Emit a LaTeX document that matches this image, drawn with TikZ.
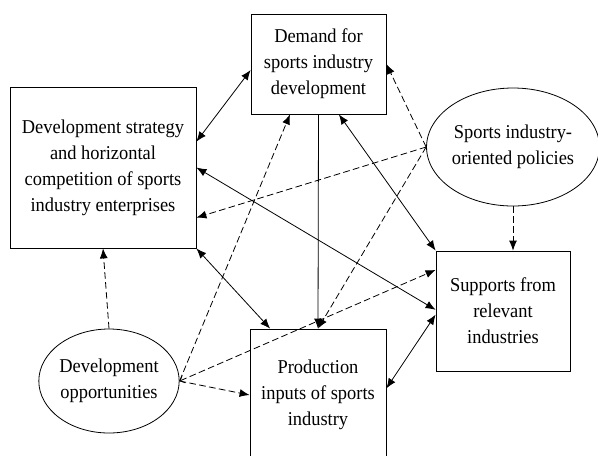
\documentclass[tikz,border=0pt]{standalone}
\usepackage{fontspec}
\setmainfont{Liberation Serif}[FakeStretch=0.94]
\usepackage{tikz}
\usetikzlibrary{shapes.geometric}
\usetikzlibrary{positioning,calc}
\usetikzlibrary{arrows.meta}

\begin{document}
\begin{tikzpicture}[x=0.75pt, y=-0.75pt, font=\fontsize{14.7}{19.5}\selectfont]
	
	\def\pxl{0.75pt}
	\tikzset{>={Latex[length=7.5pt,width=6pt]}}
	\tikzstyle{box}=[draw, line width=0.6pt, rectangle, inner sep=0pt, align=center]
	\tikzstyle{oval}=[draw, line width=0.6pt, ellipse, inner sep=0pt, align=center]
	\tikzstyle{link}=[line width=0.6pt]
	\tikzstyle{dlink}=[line width=0.6pt, dash pattern=on 5pt off 2.5pt]
	
	\useasboundingbox (0,0) rectangle (598,455);
	
	% Kaesten
	\node[box, minimum width=135*\pxl, minimum height=100*\pxl] (dem) at (318.5,64) {Demand for\\sports industry\\development};
	\node[box, minimum width=186*\pxl, minimum height=161*\pxl] (strat) at (103,167.5) {Development strategy\\and horizontal\\competition of sports\\industry enterprises};
	\node[box, minimum width=134*\pxl, minimum height=120*\pxl] (sup) at (503,311) {Supports from\\relevant\\industries};
	\node[box, minimum width=136*\pxl, minimum height=132*\pxl] (prod) at (318,395) {Production\\inputs of sports\\industry};
	
	% Ellipsen
	\node[oval, minimum width=170*\pxl, minimum height=118*\pxl] (pol) at (513,147) {Sports industry-\\oriented policies};
	\node[oval, minimum width=134*\pxl, minimum height=104*\pxl] (opp) at (109,381) {Development\\opportunities};
	
	% durchgezogene Verbindungen
	\draw[link,<->] ($(strat.north east)!0.34!(strat.south east)$) -- ($(dem.north west)!0.56!(dem.south west)$);
	\draw[link,<->] (strat.east) -- ($(sup.north west)!0.49!(sup.south west)$);
	\draw[link,<->] ($(dem.south west)!0.65!(dem.south east)$) -- (sup.north west);
	\draw[link,->] (dem.south) -- (prod.north);
	\draw[link,<->] (strat.south east) -- ($(prod.north west)!0.15!(prod.north east)$);
	\draw[link,<->] ($(sup.north west)!0.53!(sup.south west)$) -- ($(prod.north east)!0.45!(prod.south east)$);
	
	% gestrichelte Verbindungen
	\draw[dlink,->] (pol.west) -- ($(strat.north east)!0.81!(strat.south east)$);
	\draw[dlink,->] (pol.west) -- (dem.east);
	\draw[dlink,->] (pol.west) -- (prod.north);
	\draw[dlink,->] (pol.south) -- (pol.south |- sup.north);
	\draw[dlink,->] (opp.east) -- ($(dem.south west)!0.29!(dem.south east)$);
	\draw[dlink,{Straight Barb[length=3pt,width=6pt]}->] (opp.east) -- ($(sup.north west)!0.16!(sup.south west)$);
	\draw[dlink,->] (opp.east) -- (prod.west);
	\draw[dlink,->] (opp.north) -- (strat.south);
	
\end{tikzpicture}
\end{document}
